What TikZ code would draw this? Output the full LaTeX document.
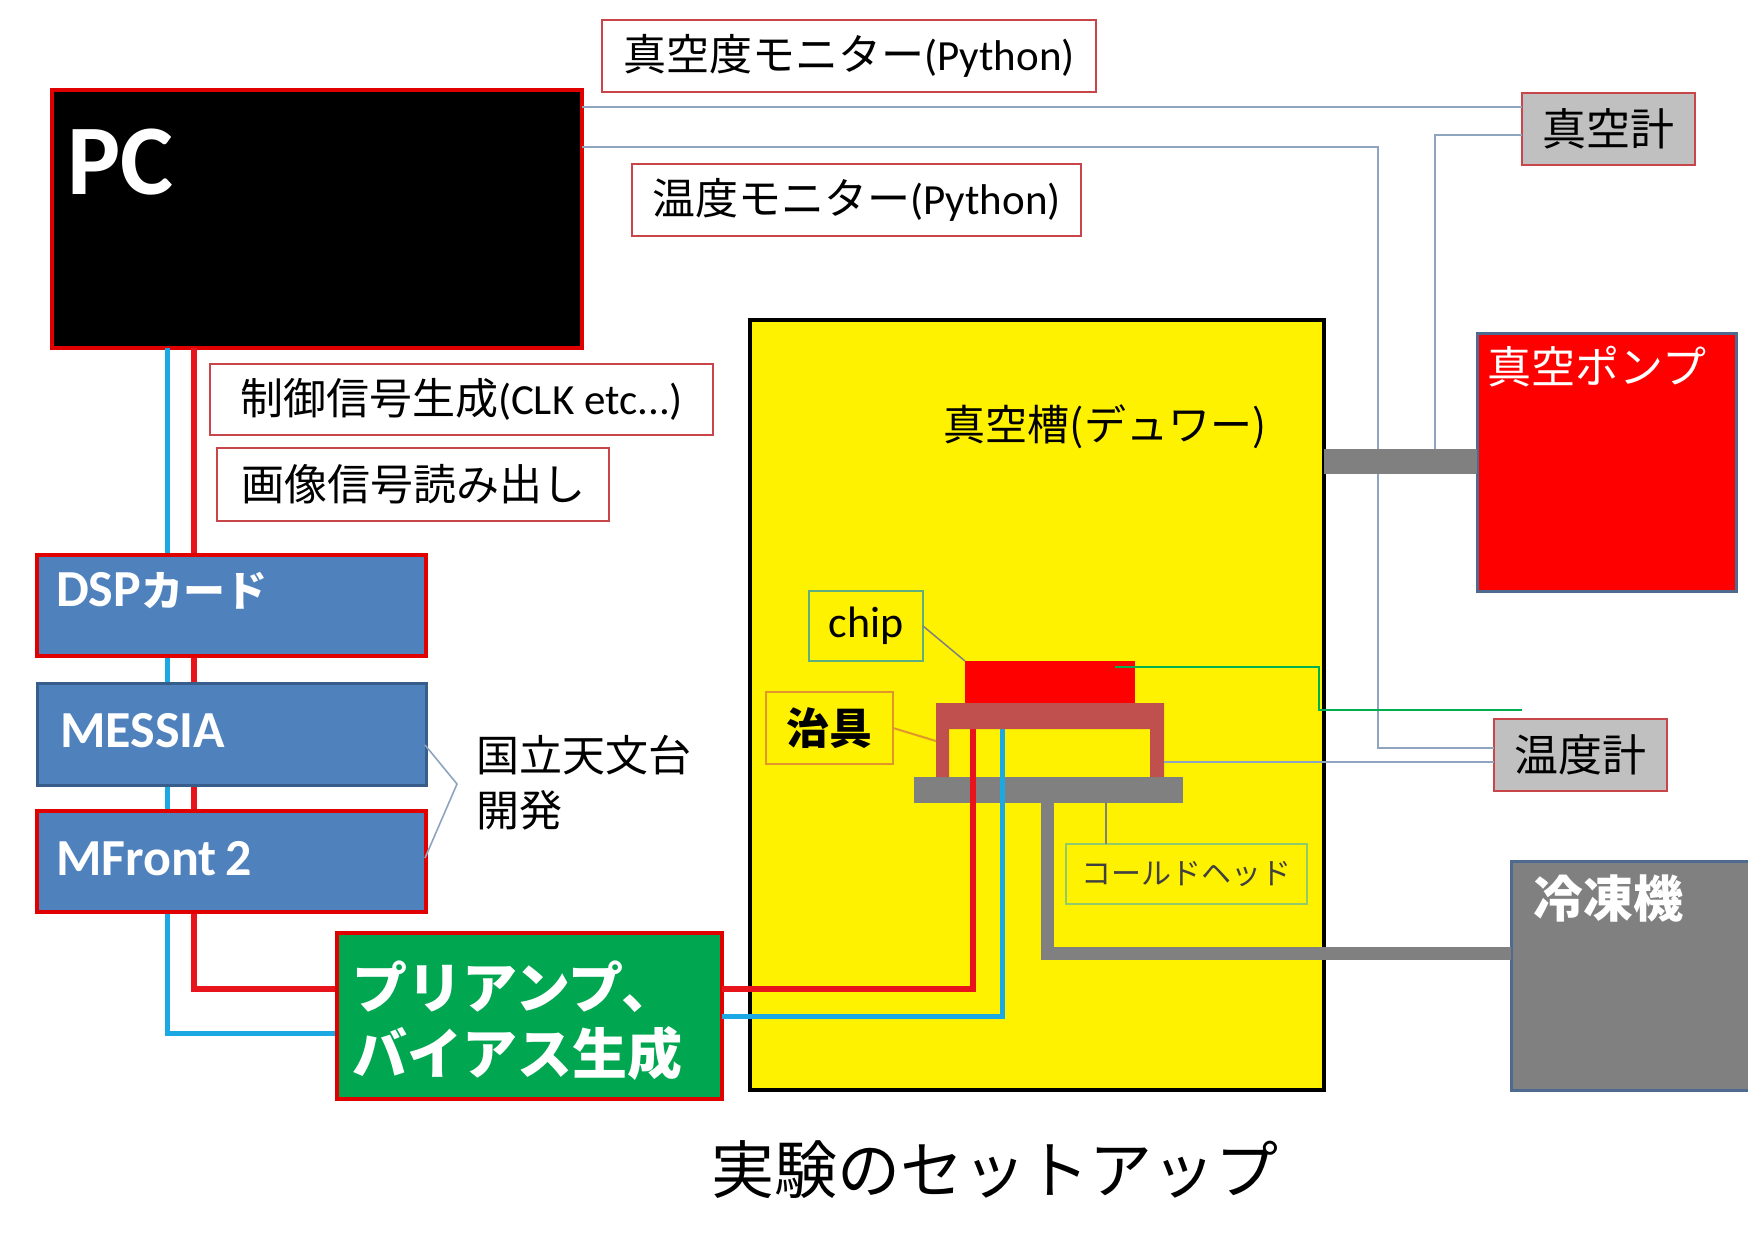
\documentclass[tikz,border=0pt]{standalone}
\usepackage{fontspec}
\setmainfont{Noto Sans CJK JP}
\newfontfamily\lat{Carlito}
\usetikzlibrary{calc}
\definecolor{pcred}{HTML}{E00000}
\definecolor{lblred}{HTML}{C8454A}
\definecolor{boxblue}{HTML}{4F81BD}
\definecolor{darkblue}{HTML}{385D8A}
\definecolor{slate}{HTML}{4F6A8F}
\definecolor{connc}{HTML}{8EA4BF}
\definecolor{wireblue}{HTML}{1CA8E3}
\definecolor{wirered}{HTML}{E8141B}
\definecolor{pipegray}{HTML}{808080}
\definecolor{gaugegray}{HTML}{C0C0C0}
\definecolor{jigc}{HTML}{C0504D}
\definecolor{prgreen}{HTML}{00A650}
\definecolor{glinec}{HTML}{00B050}
\definecolor{chipframe}{HTML}{5FAE7E}
\definecolor{headframe}{HTML}{8FCB6A}
\definecolor{jigframe}{HTML}{E0962A}
\newcommand\fs[1]{\fontsize{#1}{#1}\selectfont}
\tikzset{
  bx/.style={rectangle, inner sep=0pt, outer sep=0pt, anchor=north west},
  lbl/.style={bx, draw=lblred, line width=2.5pt, fill=white, font=\fs{43}},
  bluebox/.style={bx, draw=pcred, line width=4pt, fill=boxblue},
  gauge/.style={bx, draw=lblred, line width=2.5pt, fill=gaugegray, font=\fs{44}},
  conn/.style={draw=connc, line width=2.2pt},
  wr/.style={draw=wirered, line width=6pt},
  wb/.style={draw=wireblue, line width=5pt},
  boxtext/.style={anchor=base west, text=white, inner sep=0pt},
  thinlbl/.style={draw=#1, line width=2pt, bx},
}
\begin{document}
\begin{tikzpicture}[x=1pt,y=-1pt]
\clip (0,0) rectangle (1748,1233);
\fill[white] (0,0) rectangle (1748,1233);
% coordinates for connector heights
\coordinate (ya) at (0,107);
\coordinate (yb) at (0,147);
\coordinate (yc) at (0,135);
\coordinate (yd) at (0,748);
\coordinate (ye) at (0,762);
\coordinate (yred) at (0,989);
\coordinate (yblue) at (0,1033);
\coordinate (yred2) at (0,989);
\coordinate (yblue2) at (0,1016);
\coordinate (ypipe) at (0,461);
\coordinate (ystem) at (0,953);
\coordinate (xblue) at (167,0);
\coordinate (xred) at (194,0);
\coordinate (xtv) at (1378,0);
\coordinate (xpv) at (1435,0);

% dewar
\node[bx, draw=black, line width=4pt, fill=yellow, minimum width=574pt, minimum height=770pt] (dewar) at (750,320) {};
\node[font=\fs{42}] (dewart) at (1105,427) {真空槽(デュワー)};

% main boxes
\node[bx, draw=pcred, line width=4.5pt, fill=black, minimum width=530pt, minimum height=258pt] (pc) at (52,90) {};
\node[boxtext, font=\lat\bfseries\fs{100}] (pct) at (67,195) {PC};

\node[lbl, minimum width=494pt, minimum height=72pt] (vacmon) at (602,20) {真空度モニター{\lat(Python)}};
\node[lbl, minimum width=449pt, minimum height=72pt] (tempmon) at (632,164) {温度モニター{\lat(Python)}};
\node[gauge, minimum width=173pt, minimum height=72pt] (vacgauge) at (1522,93) {真空計};
\node[gauge, minimum width=173pt, minimum height=72pt] (thermo) at (1494,719) {温度計};

% pump and fridge
\node[bx, draw=slate, line width=3pt, fill=red, minimum width=259pt, minimum height=258pt] (pump) at (1477,333) {};
\node[anchor=west, text=white, font=\fs{44}] (pumpt) at (1484,367) {真空ポンプ};
\node[bx, draw=slate, line width=3pt, fill=pipegray, minimum width=260pt, minimum height=229pt] (fridge) at (1511,861) {};
\node[anchor=west, text=white, font=\bfseries\fs{50}] (fridget) at (1530,898) {冷凍機};

% connectors top
\draw[conn] (pc.east |- ya) -- (vacgauge.west |- ya);
\draw[conn] (pc.east |- yb) -- (xtv |- yb) -- (xtv |- yd) -- (thermo.west |- yd);
\draw[conn] (vacgauge.west |- yc) -- (xpv |- yc) -- (xpv |- ypipe);
% vacuum pipe
\draw[pipegray, line width=25pt] (dewar.east |- ypipe) -- (pump.west |- ypipe);

% left wires
\draw[wb] (xblue |- pc.south) -- (xblue |- yblue) -- (337,1033) coordinate (pbin);
\draw[wr] (xred |- pc.south) -- (xred |- yred) -- (337,989) coordinate (prin);

% left labels
\node[lbl, minimum width=503pt, minimum height=71pt] (ctrl) at (210,364) {制御信号生成{\lat(CLK etc...)}};
\node[lbl, minimum width=392pt, minimum height=73pt] (img) at (217,448) {画像信号読み出し};

% blue boxes
\node[bluebox, minimum width=389pt, minimum height=101pt] (dsp) at (37,555) {};
\node[boxtext, font=\bfseries\fs{42}] (dspt) at (56,606) {{\lat\fs{52}DSP}カード};
\node[bx, draw=darkblue, line width=3pt, fill=boxblue, minimum width=389pt, minimum height=102pt] (messia) at (37,683) {};
\node[boxtext, font=\lat\bfseries\fs{52}] (messiat) at (60,747) {MESSIA};
\node[bluebox, minimum width=389pt, minimum height=101pt] (mfront) at (37,811) {};
\node[boxtext, font=\lat\bfseries\fs{52}] (mfrontt) at (56,875) {MFront\,2};

% bracket
\coordinate (brtip) at (457,784);
\draw[conn, line width=1.6pt] (425,745) -- (brtip) -- (425,858);
\node[anchor=west, align=left, font=\fontsize{43}{55}\selectfont, inner sep=0pt] (naoj) at (476,783) {国立天文台\\開発};

% preamp
\node[bx, draw=pcred, line width=4pt, fill=prgreen, minimum width=385pt, minimum height=166pt] (preamp) at (337,933) {};
\node[anchor=west, align=left, text=white, font=\bfseries\fontsize{55}{66}\selectfont, inner sep=0pt] (preampt) at (352,1021) {プリアンプ、\\バイアス生成};

% inside dewar
\draw[pipegray, line width=13pt] (1047,790) -- (1047,953) -- (fridge.west |- ystem);
\fill[pipegray] (914,777) rectangle (1183,803);
\coordinate (plate) at (1048,790);
\node[bx, fill=red, minimum width=170pt, minimum height=44pt] (chip) at (965,661) {};
\draw[wr] (preamp.east |- yred2) -- (973,989) -- (973,729);
\draw[wb] (preamp.east |- yblue2) -- (1002,1016) -- (1002,729);
\fill[jigc] (936,703) -- (1164,703) -- (1164,777) -- (1150,777) -- (1150,729) -- (949,729) -- (949,777) -- (936,777) -- cycle;
\coordinate (jigleg) at (1164,762);
\coordinate (jigleft) at (936,741);

% green line
\coordinate (gend) at (1522,710);
\draw[glinec, line width=2pt] (1115,667) -- (1319,667) -- (1319,710) -- (gend);
% jig to thermometer
\draw[conn] (jigleg) -- (thermo.west |- ye);

% labels inside dewar
\node[thinlbl=chipframe, minimum width=114pt, minimum height=70pt, font=\lat\fs{44}] (chiplabel) at (809,591) {chip};
\draw[gray, line width=1.5pt] (chiplabel.east) -- (chip.north west);
\node[thinlbl=jigframe, minimum width=127pt, minimum height=72pt, font=\bfseries\fs{43}] (jiglabel) at (766,692) {治具};
\draw[jigframe, line width=2pt] (jiglabel.east) -- (jigleft);
\node[thinlbl=headframe, minimum width=241pt, minimum height=60pt, font=\fs{30}, text=black!75] (headlabel) at (1066,844) {コールドヘッド};
\draw[gray, line width=1.5pt] (headlabel.north -| 1106,0) -- (1106,803);

% title
\node[font=\fs{63}] (title) at (995,1170) {実験のセットアップ};
\end{tikzpicture}
\end{document}
